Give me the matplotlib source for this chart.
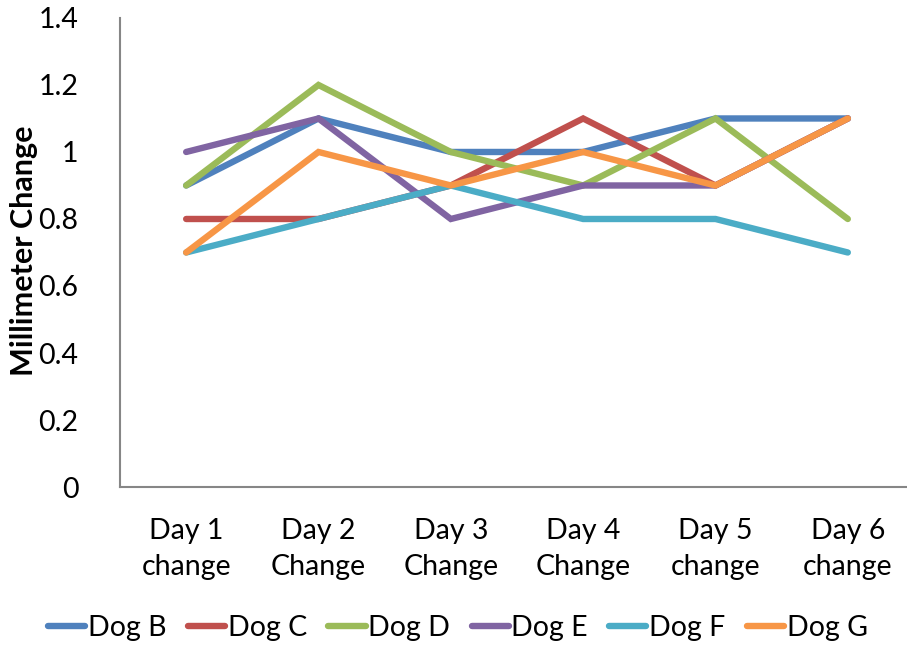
import matplotlib
matplotlib.use("Agg")
from matplotlib import pyplot as plt

plt.rcParams['font.family'] = ['Lato', 'DejaVu Sans']

days = ["Day 1\nchange", "Day 2\nChange", "Day 3\nChange",
        "Day 4\nChange", "Day 5\nchange", "Day 6\nchange"]

dog_b = [0.9, 1.1, 1.0, 1.0, 1.1, 1.1]
dog_c = [0.8, 0.8, 0.9, 1.1, 0.9, 1.1]
dog_d = [0.9, 1.2, 1.0, 0.9, 1.1, 0.8]
dog_e = [1.0, 1.1, 0.8, 0.9, 0.9, 1.1]
dog_f = [0.7, 0.8, 0.9, 0.8, 0.8, 0.7]
dog_g = [0.7, 1.0, 0.9, 1.0, 0.9, 1.1]

series = [
    ("Dog B", dog_b, "#4F81BD"),
    ("Dog C", dog_c, "#C0504D"),
    ("Dog D", dog_d, "#9BBB59"),
    ("Dog E", dog_e, "#8064A2"),
    ("Dog F", dog_f, "#4BACC6"),
    ("Dog G", dog_g, "#F79646"),
]

fig = plt.figure(figsize=(9.07, 6.51), dpi=100)
ax = fig.add_axes([0.1323, 0.2519, 0.8754, 0.7205])

x = list(range(len(days)))
for name, vals, col in series:
    ax.plot(x, vals, color=col, lw=4.6, label=name,
            solid_capstyle='round', solid_joinstyle='miter')

ax.set_xlim(-0.5, len(days) - 0.5)
ax.set_ylim(0, 1.4)
ax.set_yticks([0, 0.2, 0.4, 0.6, 0.8, 1.0, 1.2, 1.4])
ax.set_yticklabels(["0", "0.2", "0.4", "0.6", "0.8", "1", "1.2", "1.4"])
ax.set_xticks(x)
ax.set_xticklabels(days, linespacing=1.5)
ax.tick_params(axis='both', length=0, labelsize=20.5)
ax.tick_params(axis='y', pad=30)
ax.tick_params(axis='x', pad=22)

for side in ['top', 'right']:
    ax.spines[side].set_visible(False)
for side in ['left', 'bottom']:
    ax.spines[side].set_color('#868686')
    ax.spines[side].set_linewidth(1.5)

fig.text(0.027, 0.615, "Millimeter Change", rotation=90, fontsize=22,
         fontweight='bold', ha='center', va='center')

fig.legend(loc='center', bbox_to_anchor=(0.505, 0.035), ncol=6,
           frameon=False, fontsize=20.5, handlelength=1.3, handletextpad=0.1,
           columnspacing=0.75)

fig.savefig("out.png", dpi=100)
